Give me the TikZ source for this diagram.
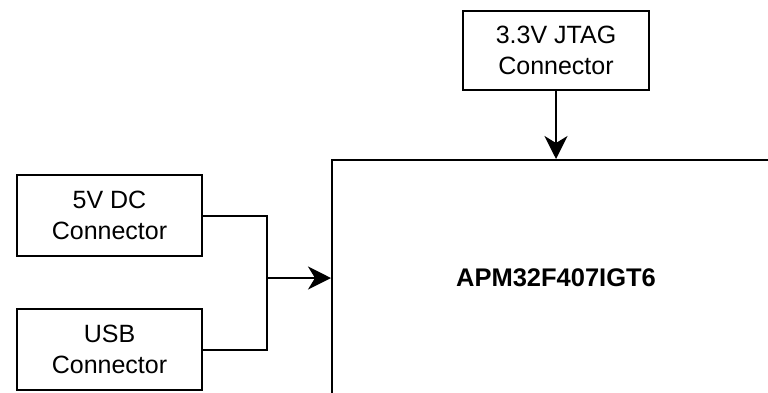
\documentclass[tikz,border=0pt]{standalone}
\usepackage{fontspec}
\setmainfont{Liberation Sans}
\usetikzlibrary{arrows.meta, positioning}

\begin{document}
\begin{tikzpicture}[
  x=1pt, y=-1pt,
  blk/.style={draw=black, line width=2pt, align=center, inner sep=2pt,
    minimum width=185pt, minimum height=81pt, font=\fontsize{25}{31.5}\selectfont},
  chip/.style={draw=black, line width=2pt, minimum width=448pt, minimum height=236pt,
    font=\fontsize{25.5}{30}\selectfont\bfseries},
  wire/.style={line width=2pt},
  arr/.style={-{Stealth[length=23pt, width=23pt, inset=7pt]}, line width=2pt},
  node distance=51pt
]
\useasboundingbox (0,0) rectangle (768,392);
\clip (0,0) rectangle (768,392);

\node[chip] (mcu) at (556,278) {APM32F407IGT6};
\node[blk] (dc) at (109.5,215.5) {5V DC\\Connector};
\node[blk, below=of dc] (usb) {USB\\Connector};
\node[blk, minimum width=186pt, minimum height=79pt, above=68pt of mcu] (jtag) {3.3V JTAG\\Connector};

% power inputs
\coordinate (jn) at (267,278);
\draw[wire] (dc.east) -| (jn) |- (usb.east);
\draw[arr] (jn) -- (mcu.west);

% debug
\draw[arr] (jtag) -- (mcu);
\end{tikzpicture}
\end{document}
